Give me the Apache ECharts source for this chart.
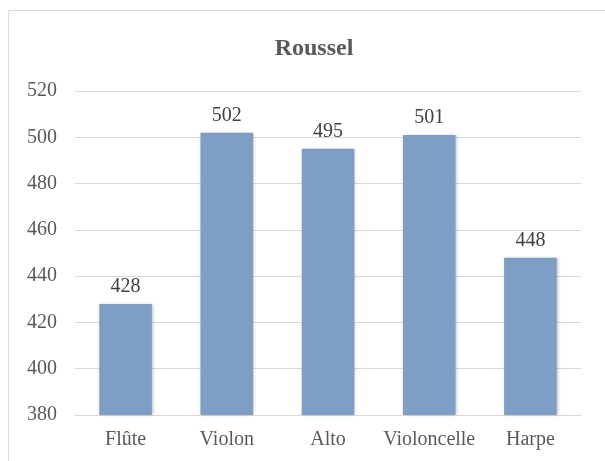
<!DOCTYPE html>
<html>
<head>
<meta charset="utf-8">
<script src="https://cdn.jsdelivr.net/npm/echarts@6/dist/echarts.min.js"></script>
<style>
  html, body { margin: 0; padding: 0; background: #fff; }
  #chart { width: 605px; height: 461px; }
</style>
</head>
<body>
<div id="chart"></div>
<script>
// Scores per instrument
const categories = ['Flûte', 'Violon', 'Alto', 'Violoncelle', 'Harpe'];
const scores = [428, 502, 495, 501, 448];
const yMin = 380;
const yMax = 520;
const yStep = 20;

const serif = '"Liberation Serif", "Times New Roman", serif';
const textGrey = '#595959';

const chart = echarts.init(document.getElementById('chart'), null, { renderer: 'canvas' });

chart.setOption({
  animation: false,
  backgroundColor: '#ffffff',
  graphic: [{
    type: 'rect',
    shape: { x: 8.5, y: 10.5, width: 640, height: 500 },
    style: { fill: 'none', stroke: '#d9d9d9', lineWidth: 1 },
    silent: true
  }],
  title: {
    text: 'Roussel',
    left: 309,
    textAlign: 'center',
    top: 32,
    textStyle: { fontFamily: serif, fontWeight: 'bold', fontSize: 24, color: textGrey }
  },
  grid: { left: 75, right: 24, top: 91, bottom: 46, containLabel: false },
  xAxis: {
    type: 'category',
    data: categories,
    axisLine: { show: true, lineStyle: { color: '#d9d9d9', width: 1 } },
    axisTick: { show: false },
    axisLabel: { interval: 0, fontFamily: serif, fontSize: 20, color: textGrey, margin: 15 }
  },
  yAxis: {
    type: 'value',
    min: yMin,
    max: yMax,
    interval: yStep,
    axisLine: { show: false },
    axisTick: { show: false },
    splitLine: { lineStyle: { color: '#d9d9d9', width: 1 } },
    axisLabel: { fontFamily: serif, fontSize: 20, color: textGrey, margin: 18 }
  },
  series: [{
    type: 'bar',
    data: scores,
    barWidth: '52%',
    itemStyle: {
      color: '#7f9ec5',
      shadowColor: 'rgba(0,0,0,0.25)',
      shadowBlur: 3,
      shadowOffsetX: 1,
      shadowOffsetY: 0
    },
    label: {
      show: true,
      position: 'top',
      distance: 7,
      fontFamily: serif,
      fontSize: 20,
      color: '#404040'
    }
  }]
});
</script>
</body>
</html>
